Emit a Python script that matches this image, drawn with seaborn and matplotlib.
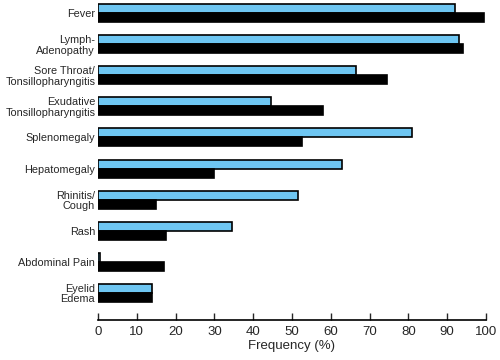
import numpy as np
import pandas as pd
import matplotlib
matplotlib.use('Agg')
import matplotlib.pyplot as plt
import seaborn as sns

# symptom frequencies (%)
symptoms = ['Fever', 'Lymph-\nAdenopathy', 'Sore Throat/\nTonsillopharyngitis',
            'Exudative\nTonsillopharyngitis', 'Splenomegaly', 'Hepatomegaly',
            'Rhinitis/\nCough', 'Rash', 'Abdominal Pain', 'Eyelid\nEdema']
group_blue = [92, 93, 66.5, 44.5, 81, 63, 51.5, 34.5, 0.5, 14]
group_black = [99.5, 94, 74.5, 58, 52.5, 30, 15, 17.5, 17, 14]
series_names = ['blue', 'black']
xticks = list(range(0, 101, 10))

df = pd.DataFrame({
    'symptom': symptoms * 2,
    'freq': group_blue + group_black,
    'group': [series_names[0]] * len(symptoms) + [series_names[1]] * len(symptoms),
})

sns.set_style('white')
plt.rcParams['font.family'] = ['Liberation Sans', 'DejaVu Sans']

fig = plt.figure(figsize=(5, 3.6), dpi=100)
ax = fig.add_axes([98 / 500, 40 / 360, 388 / 500, 320 / 360])

sns.barplot(data=df, y='symptom', x='freq', hue='group', orient='h',
            palette=['#6ec6f2', '#000000'], saturation=1, edgecolor='black',
            linewidth=1.2, width=0.58, legend=False, ax=ax)

ax.set_xlim(0, 100)
ax.set_ylim(9.87, -0.42)
ax.set_xticks(xticks)
ax.set_xticklabels([str(t) for t in xticks], fontsize=9.5)
ax.tick_params(axis='x', direction='in', length=5, width=1, pad=4, bottom=True)
ax.tick_params(axis='y', length=0, pad=2)
for lab in ax.get_yticklabels():
    lab.set_fontsize(7.8)
    lab.set_horizontalalignment('right')
    lab.set_multialignment('right')
    lab.set_linespacing(1.05)
ax.set_xlabel('Frequency (%)', fontsize=9.5, labelpad=2)
ax.set_ylabel('')
for s in ['top', 'right', 'left']:
    ax.spines[s].set_visible(False)
ax.spines['bottom'].set_linewidth(1.2)
ax.spines['bottom'].set_color('black')

fig.savefig('out.png', dpi=100)
